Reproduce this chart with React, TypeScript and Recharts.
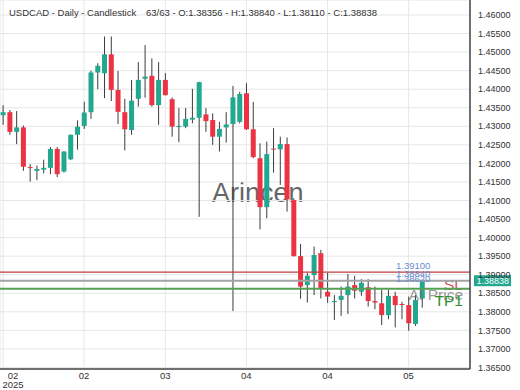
import React from 'react';
import { ComposedChart, Bar, XAxis, YAxis, CartesianGrid, ReferenceLine } from 'recharts';

// daily candles
const opens = [
  1.4330, 1.4338, 1.4285, 1.4297, 1.4190, 1.4180, 1.4183, 1.4188, 1.4239, 1.4178,
  1.4211, 1.4277, 1.4301, 1.4338, 1.4445, 1.4443, 1.4494, 1.4398, 1.4338, 1.4290,
  1.4374, 1.4428, 1.4436, 1.4357, 1.4425, 1.4373, 1.4298, 1.4299, 1.4318, 1.4323,
  1.4332, 1.4317, 1.4272, 1.4297, 1.4306, 1.4312, 1.4389, 1.4292, 1.4214, 1.4082,
  1.4240, 1.4238, 1.4252, 1.4101, 1.3950, 1.3872, 1.3899, 1.3958, 1.3854, 1.3826,
  1.3832, 1.3845, 1.3872, 1.3854, 1.3866, 1.3829, 1.3823, 1.3791, 1.3843, 1.3821,
  1.3818, 1.3767, 1.38356,
];
const highs = [
  1.4357, 1.4344, 1.4341, 1.4302, 1.4198, 1.4194, 1.4210, 1.4244, 1.4244, 1.4233,
  1.4278, 1.4316, 1.4366, 1.4450, 1.4470, 1.4542, 1.4542, 1.4449, 1.4374, 1.4425,
  1.4473, 1.4519, 1.4483, 1.4473, 1.4443, 1.4378, 1.4349, 1.4349, 1.4401, 1.4420,
  1.4349, 1.4335, 1.4312, 1.4338, 1.4409, 1.4393, 1.4416, 1.4366, 1.4254, 1.4259,
  1.4295, 1.4272, 1.4270, 1.4106, 1.3983, 1.3905, 1.3976, 1.3967, 1.3905, 1.3845,
  1.3868, 1.3902, 1.3897, 1.3888, 1.3888, 1.3868, 1.3859, 1.3859, 1.3854, 1.3827,
  1.3841, 1.3845, 1.38840,
];
const lows = [
  1.4304, 1.4277, 1.4252, 1.4180, 1.4151, 1.4155, 1.4173, 1.4171, 1.4163, 1.4175,
  1.4209, 1.4237, 1.4293, 1.4320, 1.4400, 1.4376, 1.4368, 1.4306, 1.4235, 1.4277,
  1.4353, 1.4377, 1.4353, 1.4304, 1.4383, 1.4272, 1.4257, 1.4295, 1.4308, 1.4056,
  1.4285, 1.4250, 1.4232, 1.4256, 1.3802, 1.4308, 1.4290, 1.4214, 1.4022, 1.4052,
  1.4175, 1.4142, 1.4070, 1.3949, 1.3835, 1.3825, 1.3845, 1.3836, 1.3824, 1.3778,
  1.3789, 1.3794, 1.3836, 1.3843, 1.3814, 1.3807, 1.3764, 1.3780, 1.3758, 1.3780,
  1.3749, 1.3762, 1.38110,
];
const closes = [
  1.4338, 1.4285, 1.4297, 1.4191, 1.4188, 1.4185, 1.4188, 1.4239, 1.4171, 1.4232,
  1.4277, 1.4299, 1.4337, 1.4445, 1.4463, 1.4494, 1.4398, 1.4339, 1.4292, 1.4369,
  1.4425, 1.4434, 1.4357, 1.4425, 1.4384, 1.4299, 1.4301, 1.4320, 1.4323, 1.4419,
  1.4314, 1.4272, 1.4293, 1.4305, 1.4378, 1.4387, 1.4292, 1.4217, 1.4082, 1.4225,
  1.4238, 1.4252, 1.4103, 1.3950, 1.3868, 1.3897, 1.3953, 1.3863, 1.3841, 1.3829,
  1.3843, 1.3868, 1.3857, 1.3878, 1.3829, 1.3825, 1.3791, 1.3843, 1.3818, 1.3820,
  1.3769, 1.3832, 1.38838,
];

const xTicks = [0, 12, 24, 36, 48, 60];
const xTickLabels = ['02', '02', '03', '04', '04', '05'];
const yearLabel = '2025';
const yTicks = [
  1.365, 1.37, 1.375, 1.38, 1.385, 1.39, 1.395, 1.4, 1.405, 1.41, 1.415,
  1.42, 1.425, 1.43, 1.435, 1.44, 1.445, 1.45, 1.455, 1.46, 1.465,
];

const slLevel = 1.3907;
const aiLevel = 1.38838;
const tpLevel = 1.3862;
const slText = '1.39100';
const aiText = '1.38840';
const tpText = '1.38620';
const lastText = '1.38838';

const data = opens.map((o, i) => ({ i, open: o, high: highs[i], low: lows[i], close: closes[i] }));

const FONT = '"Liberation Sans", Arial, sans-serif';
const GREEN = '#22a88f';
const RED = '#ec3344';
const BLUE = '#6a8cd0';

const Candle = (props: any) => {
  const { x, y, width, height, payload } = props;
  const { open, close, high, low } = payload;
  const top = Math.min(y, y + height);
  const h = Math.abs(height);
  const per = high === low ? 0 : h / (high - low);
  const yO = top + (high - open) * per;
  const yC = top + (high - close) * per;
  const cx = x + width / 2;
  return (
    <g>
      <line x1={cx} x2={cx} y1={top} y2={top + h} stroke="#3c3c3c" strokeWidth={1} />
      <rect
        x={x}
        y={Math.min(yO, yC)}
        width={width}
        height={Math.max(1, Math.abs(yO - yC))}
        fill={close >= open ? GREEN : RED}
      />
    </g>
  );
};

const YTick = (props: any) => {
  const { x, y, payload } = props;
  return (
    <text x={x} y={y} dy={3.2} fontSize={9} fill="#333" fontFamily={FONT} textAnchor="start">
      {payload.value.toFixed(5)}
    </text>
  );
};

const XTick = (props: any) => {
  const { x, y, payload, index } = props;
  const cx = index === 0 ? x + 10 : x;
  return (
    <g fontFamily={FONT} fontSize={9.5} fill="#333">
      <text x={cx} y={y} dy={10} textAnchor="middle">{xTickLabels[index]}</text>
      {index === 0 && (
        <text x={cx} y={y} dy={19} textAnchor="middle">{yearLabel}</text>
      )}
    </g>
  );
};

const slLabel = (p: any) => {
  const { x, y } = p.viewBox;
  return (
    <g fontFamily={FONT}>
      <text x={x + 396} y={y - 3} fontSize={9.5} fill={BLUE}>{slText}</text>
      <text x={x + 463} y={y + 17.5} fontSize={15.5} fill="rgba(200,48,48,0.85)" textAnchor="end">SL</text>
    </g>
  );
};

const aiLabel = (p: any) => {
  const { x, y, width } = p.viewBox;
  return (
    <g fontFamily={FONT}>
      <text x={x + 396} y={y - 4} fontSize={9.5} fill={BLUE}>{aiText}</text>
      <text x={x + 463} y={y + 19} fontSize={15.5} fill="rgba(110,110,110,0.7)" textAnchor="end">AI Price</text>
      <rect x={x + width + 4} y={y - 5.5} width={37} height={11} fill={GREEN} />
      <text x={x + width + 6.5} y={y + 3.3} fontSize={9} fill="#fff">{lastText}</text>
    </g>
  );
};

const tpLabel = (p: any) => {
  const { x, y } = p.viewBox;
  return (
    <g fontFamily={FONT}>
      <text x={x + 396} y={y - 6.5} fontSize={9.5} fill={BLUE}>{tpText}</text>
      <text x={x + 463} y={y + 17.5} fontSize={15.5} fill="#2f8f2f" textAnchor="end">TP1</text>
    </g>
  );
};

export default function App() {
  return (
    <div style={{ position: 'absolute', left: 0, top: 0, width: 520, height: 390, background: '#fff', fontFamily: FONT }}>
      <svg width={520} height={390} style={{ position: 'absolute', left: 0, top: 0 }}>
        <text x={212} y={202} fontSize={27} fill="#666" fontFamily={FONT}>Arincen</text>
      </svg>
      <div style={{ position: 'absolute', left: 0, top: 0 }}>
        <ComposedChart width={520} height={390} data={data} margin={{ top: 0, right: 0, bottom: 0, left: 0 }}>
          <CartesianGrid stroke="#e6e6e6" />
          <XAxis
            dataKey="i"
            type="number"
            domain={[-0.444, 69.08]}
            allowDataOverflow
            ticks={xTicks}
            interval={0}
            height={21}
            tickSize={0}
            tickMargin={0}
            tickLine={false}
            axisLine={{ stroke: '#444', strokeWidth: 1.5 }}
            tick={<XTick />}
          />
          <YAxis
            orientation="right"
            type="number"
            domain={[1.36458, 1.46404]}
            allowDataOverflow
            ticks={yTicks}
            interval={0}
            width={50}
            tickSize={0}
            tickMargin={8}
            tickLine={false}
            axisLine={{ stroke: '#444', strokeWidth: 1.5 }}
            tick={<YTick />}
          />
          <Bar dataKey={(d: any) => [d.low, d.high]} barSize={5} shape={<Candle />} isAnimationActive={false} />
          <ReferenceLine y={slLevel} stroke="#c23b3b" strokeWidth={1.2} label={slLabel} />
          <ReferenceLine y={aiLevel} stroke="#a3a3a3" strokeWidth={2} label={aiLabel} />
          <ReferenceLine y={tpLevel} stroke="#55a055" strokeWidth={2} label={tpLabel} />
        </ComposedChart>
      </div>
      <svg width={520} height={390} style={{ position: 'absolute', left: 0, top: 0, pointerEvents: 'none' }}>
        <g fontFamily={FONT} fontSize={9.5} fill="#333">
          <text x={9} y={16}>USDCAD - Daily - Candlestick</text>
          <text x={146} y={16}>63/63 - O:1.38356 - H:1.38840 - L:1.38110 - C:1.38838</text>
        </g>
      </svg>
    </div>
  );
}
